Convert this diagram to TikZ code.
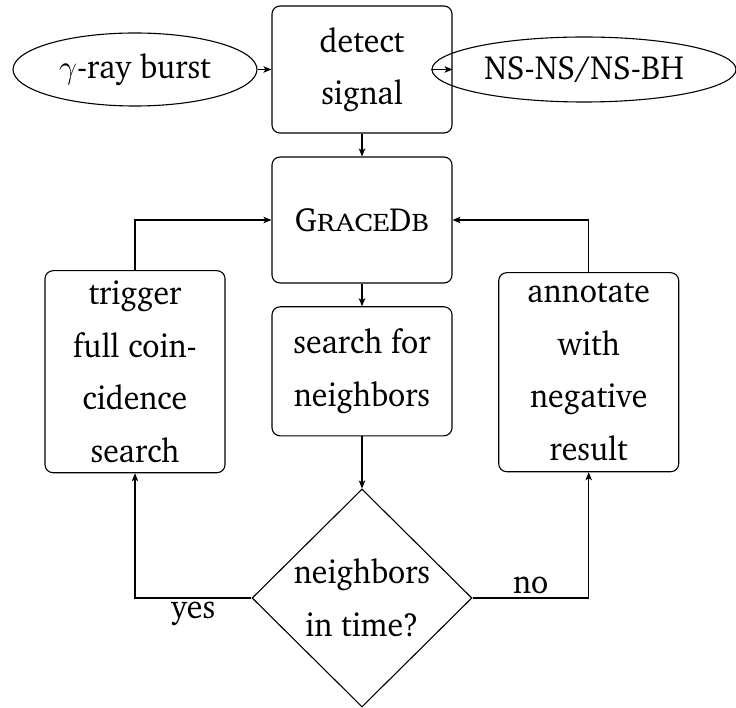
\RequirePackage{fix-cm}
\documentclass[tikz,border=0pt]{standalone}
\usepackage[T1]{fontenc}
\usepackage{charter}
\usepackage{graphicx}
\usetikzlibrary{shapes.geometric,arrows.meta}
\newcommand{\sq}[1]{\scalebox{0.95}[1]{#1}}
\newcommand{\fakesc}[1]{\scalebox{1.2}[1]{\fontsize{25.5}{25.5}\selectfont #1}}
\begin{document}
\begin{tikzpicture}[x=1pt,y=-1pt,
  every node/.style={font=\fontsize{33.5}{52.5}\selectfont},
  line width=1.1pt,
  >={Stealth[length=8pt,width=6.5pt,inset=2pt]},
  boxnode/.style={draw,rectangle,rounded corners=8pt,align=center,inner sep=0pt,
    minimum width=180pt},
  ellnode/.style={draw,ellipse,inner sep=0pt},
  dianode/.style={draw,diamond,align=center,inner sep=0pt,aspect=1}
]
\useasboundingbox (0,0) rectangle (736,708);
\node[ellnode,minimum width=244pt,minimum height=73pt] (gamma) at (135,69.5) {\sq{$\gamma$-ray burst}};
\node[ellnode,minimum width=304pt,minimum height=65pt] (ns) at (584,69.5) {\sq{NS-NS/NS-BH}};
\node[boxnode,minimum height=127pt] (detect) at (362,69.5) {\sq{detect}\\\sq{signal}};
\node[boxnode,minimum height=126pt] (grace) at (362,220) {\sq{G\fakesc{RACE}D\fakesc{B}}};
\node[boxnode,minimum height=129pt] (search) at (362,371.3) {\sq{search for}\\\sq{neighbors}};
\node[boxnode,minimum height=202pt] (trig) at (135,371.7) {\sq{trigger}\\\sq{full coin-}\\\sq{cidence}\\\sq{search}};
\node[boxnode,minimum height=199pt] (annot) at (588.7,372.2) {\sq{annotate}\\\sq{with}\\\sq{negative}\\\sq{result}};
\node[dianode,minimum width=220pt,minimum height=218pt] (dia) at (362,598) {\sq{neighbors}\\\sq{in time?}};

\draw[->] (gamma) -- (detect);
\draw[->] (ns) -- (detect);
\draw[->] (detect) -- (grace);
\draw[->] (grace) -- (search);
\draw[->] (search) -- (dia);
\draw[->] (trig.north) |- (grace.west);
\draw[->] (annot.north) |- (grace.east);
\draw[->] (dia.west) -| node[pos=0.25,below] (yes) {\sq{yes}} (trig.south);
\draw[->] (dia.east) -| node[pos=0.25,above] (no) {\sq{no}} (annot.south);
\end{tikzpicture}
\end{document}
